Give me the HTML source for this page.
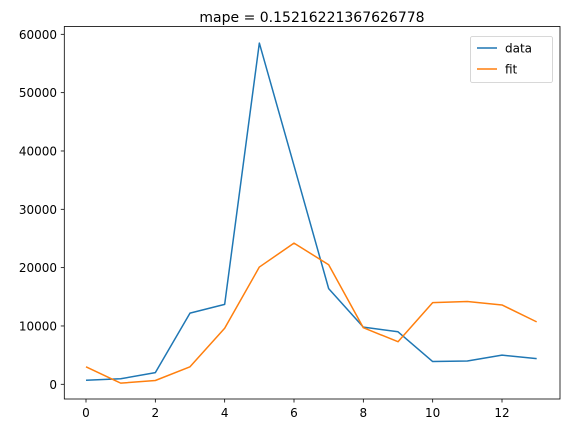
<!DOCTYPE html>
<html><head><meta charset="utf-8"><style>
html,body{margin:0;padding:0;background:#fff;}
svg text{font-family:"DejaVu Sans","Liberation Sans",sans-serif;}
</style></head><body>
<svg width="569" height="433" viewBox="0 0 569 433" xmlns="http://www.w3.org/2000/svg">
<text x="312" y="22" font-size="14" text-anchor="middle">mape = 0.15216221367626778</text>
<g id="plot"></g>
<rect x="64.3" y="26.5" width="495.7" height="372.5" fill="none" stroke="#000" stroke-width="0.8"/>
<g>
<rect x="470.5" y="36.5" width="82" height="46" rx="2" fill="#fff" stroke="#ccc" stroke-width="0.8"/>
<line x1="477" y1="48" x2="497" y2="48" stroke="#1f77b4" stroke-width="1.5"/>
<text x="505" y="52.5" font-size="12">data</text>
<line x1="477" y1="69" x2="497" y2="69" stroke="#ff7f0e" stroke-width="1.5"/>
<text x="505" y="73.5" font-size="12">fit</text>
</g>
</svg>
<script>
const dataSeries=[700,950,2000,12200,13700,58500,37500,16400,9800,9000,3900,4000,5000,4400];
const fitSeries=[3000,200,650,3000,9600,20100,24200,20500,9700,7300,14000,14200,13600,10700];
const xTicks=[0,2,4,6,8,10,12];
const yTicks=[0,10000,20000,30000,40000,50000,60000];
const NS="http://www.w3.org/2000/svg";
const g=document.getElementById('plot');
function X(i){return 86+i*34.667;}
function Y(v){return 384.3-v*0.005833;}
function mk(t,a){const e=document.createElementNS(NS,t);for(const k in a)e.setAttribute(k,a[k]);g.appendChild(e);return e;}
xTicks.forEach(t=>{
 const l=mk('line',{x1:X(t),x2:X(t),y1:399,y2:402.5,stroke:'#000','stroke-width':0.8});
 
 
 const tx=mk('text',{x:X(t),y:417,'font-size':12,'text-anchor':'middle'});
 tx.textContent=t;
 
 
});
yTicks.forEach(t=>{
 const l=mk('line',{x1:60.8,x2:64.3,y1:Y(t),y2:Y(t),stroke:'#000','stroke-width':0.8});
 
 
 const tx=mk('text',{x:57,y:Y(t)+4.5,'font-size':12,'text-anchor':'end'});
 tx.textContent=t;
 
 
});
function line(arr,color,name){
 const p=mk('polyline',{points:arr.map((v,i)=>X(i)+','+Y(v)).join(' '),fill:'none',stroke:color,'stroke-width':1.5,'stroke-linejoin':'round'});
 
 
}
line(dataSeries,'#1f77b4','data-line');
line(fitSeries,'#ff7f0e','fit-line');
</script>
</body></html>
